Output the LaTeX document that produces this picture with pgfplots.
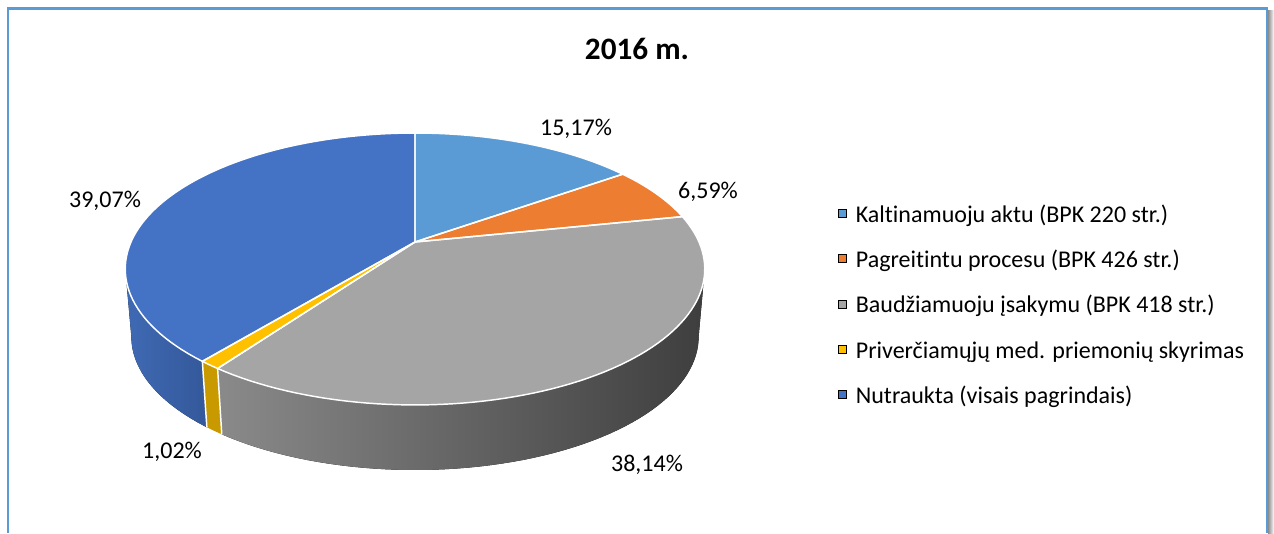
\documentclass[border=0pt]{standalone}
\usepackage{pgfplots}
\pgfplotsset{compat=1.18}
\usepackage{pgfplotstable}
\usepackage{fontspec}
\setmainfont{Carlito}[Ligatures=NoCommon]
\definecolor{c1}{HTML}{5B9BD5}
\definecolor{c2}{HTML}{ED7D31}
\definecolor{c3}{HTML}{A5A5A5}
\definecolor{c4}{HTML}{FFC000}
\definecolor{c5}{HTML}{4472C4}
\definecolor{frame}{HTML}{5B9BD5}
\definecolor{gsL}{HTML}{8A8A8A}
\definecolor{gsM}{HTML}{555555}
\definecolor{gsR}{HTML}{3E3E3E}
\definecolor{bsL}{HTML}{3F6AB4}
\definecolor{bsR}{HTML}{34589A}
\definecolor{ys}{HTML}{C99A00}
\pgfplotstableread{
idx value
0 15.17
1 6.59
2 38.14
3 1.02
4 39.07
}\piedata
\pgfplotstablegetelem{0}{value}\of\piedata\let\vA\pgfplotsretval
\pgfplotstablegetelem{1}{value}\of\piedata\let\vB\pgfplotsretval
\pgfplotstablegetelem{2}{value}\of\piedata\let\vC\pgfplotsretval
\pgfplotstablegetelem{3}{value}\of\piedata\let\vD\pgfplotsretval
\pgfplotstablegetelem{4}{value}\of\piedata\let\vE\pgfplotsretval
\pgfmathsetmacro\tot{\vA+\vB+\vC+\vD+\vE}
\pgfmathsetmacro\aA{0}
\pgfmathsetmacro\aB{\vA/\tot*360}
\pgfmathsetmacro\aC{\aB+\vB/\tot*360}
\pgfmathsetmacro\aD{\aC+\vC/\tot*360}
\pgfmathsetmacro\aE{\aD+\vD/\tot*360}
\def\aF{360}
\def\sR{101.45}
\def\sL{258.55}
\begin{document}%
\begin{tikzpicture}[declare function={
 dd(\t)=1+0.1985*cos(\t);
 tx(\t)=415+284*sin(\t)/dd(\t);
 ty(\t)=291+130.6*cos(\t)/dd(\t);
 bx(\t)=415+278*sin(\t)/dd(\t);
 by(\t)=222.7+128*cos(\t)/dd(\t);
}]
\begin{axis}[name=ax, at={(0,0)}, anchor=south west,
 scale only axis, width=955.5pt, height=399.75pt,
 xmin=0, xmax=1274, ymin=0, ymax=533, hide axis, clip=false,
 legend style={at={(0.6578,0.6159)}, anchor=north west, draw=none, fill=none,
   inner sep=0pt, row sep=17pt, column sep=6.75pt,
   font=\fontsize{18pt}{21pt}\selectfont,
   nodes={inner sep=0pt, text height=13pt, text depth=4pt}},
 legend cell align=left,
 legend image code/.code={\fill[#1] (0pt,-0.75pt) rectangle (6pt,5.25pt);},
]
% background and frame
\fill[white] (0,0) rectangle (1274,533);
\shade[left color=black!45, right color=white] (1268,0) rectangle (1274,522);
\draw[frame, line width=1.9pt] (8,0) -- (8,524.5) -- (1267,524.5) -- (1267,0);
% sides
\fill[left color=gsL, middle color=gsM, right color=gsR]
  plot[domain=\sR:\aD, samples=60, variable=\t] ({tx(\t)},{ty(\t)})
  -- plot[domain=\aD:\sR, samples=60, variable=\t] ({bx(\t)},{by(\t)}) -- cycle;
\fill[ys]
  plot[domain=\aD:\aE, samples=5, variable=\t] ({tx(\t)},{ty(\t)})
  -- plot[domain=\aE:\aD, samples=5, variable=\t] ({bx(\t)},{by(\t)}) -- cycle;
\fill[left color=bsL, right color=bsR]
  plot[domain=\aE:\sL, samples=30, variable=\t] ({tx(\t)},{ty(\t)})
  -- plot[domain=\sL:\aE, samples=30, variable=\t] ({bx(\t)},{by(\t)}) -- cycle;
\draw[white, line width=1.1pt] ({tx(\aD)},{ty(\aD)}) -- ({bx(\aD)},{by(\aD)});
\draw[white, line width=1.1pt] ({tx(\aE)},{ty(\aE)}) -- ({bx(\aE)},{by(\aE)});
% top face
\fill[c1] (415,291) -- plot[domain=\aA:\aB, samples=40, variable=\t] ({tx(\t)},{ty(\t)}) -- cycle;
\fill[c2] (415,291) -- plot[domain=\aB:\aC, samples=20, variable=\t] ({tx(\t)},{ty(\t)}) -- cycle;
\fill[c3] (415,291) -- plot[domain=\aC:\aD, samples=80, variable=\t] ({tx(\t)},{ty(\t)}) -- cycle;
\fill[c4] (415,291) -- plot[domain=\aD:\aE, samples=5, variable=\t] ({tx(\t)},{ty(\t)}) -- cycle;
\fill[c5] (415,291) -- plot[domain=\aE:\aF, samples=80, variable=\t] ({tx(\t)},{ty(\t)}) -- cycle;
\begin{scope}[white, line width=1.1pt, line join=round]
\draw (415,291) -- plot[domain=\aA:\aB, samples=40, variable=\t] ({tx(\t)},{ty(\t)}) -- cycle;
\draw (415,291) -- plot[domain=\aB:\aC, samples=20, variable=\t] ({tx(\t)},{ty(\t)}) -- cycle;
\draw (415,291) -- plot[domain=\aC:\aD, samples=80, variable=\t] ({tx(\t)},{ty(\t)}) -- cycle;
\draw (415,291) -- plot[domain=\aD:\aE, samples=5, variable=\t] ({tx(\t)},{ty(\t)}) -- cycle;
\draw (415,291) -- plot[domain=\aE:\aF, samples=80, variable=\t] ({tx(\t)},{ty(\t)}) -- cycle;
\end{scope}
% labels
\begin{scope}[font=\fontsize{18pt}{21pt}\selectfont]
\node[anchor=base] at (576,397) {15,17\%};
\node[anchor=base] at (708,334) {6,59\%};
\node[anchor=base] at (647,62) {38,14\%};
\node[anchor=base] at (172,75) {1,02\%};
\node[anchor=base] at (105,325) {39,07\%};
\end{scope}
\node[anchor=base, font=\fontsize{23.4pt}{28pt}\selectfont\bfseries] at (637,473) {2016 m.};
% legend
\addlegendimage{fill=c1}\addlegendentry{Kaltinamuoju aktu (BPK 220 str.)}
\addlegendimage{fill=c2}\addlegendentry{Pagreitintu procesu (BPK 426 str.)}
\addlegendimage{fill=c3}\addlegendentry{Baudžiamuoju įsakymu (BPK 418 str.)}
\addlegendimage{fill=c4}\addlegendentry{Priverčiamųjų med. priemonių skyrimas}
\addlegendimage{fill=c5}\addlegendentry{Nutraukta (visais pagrindais)}
\end{axis}
\pgfresetboundingbox
\useasboundingbox (ax.south west) rectangle (ax.north east);
\end{tikzpicture}%
\end{document}
